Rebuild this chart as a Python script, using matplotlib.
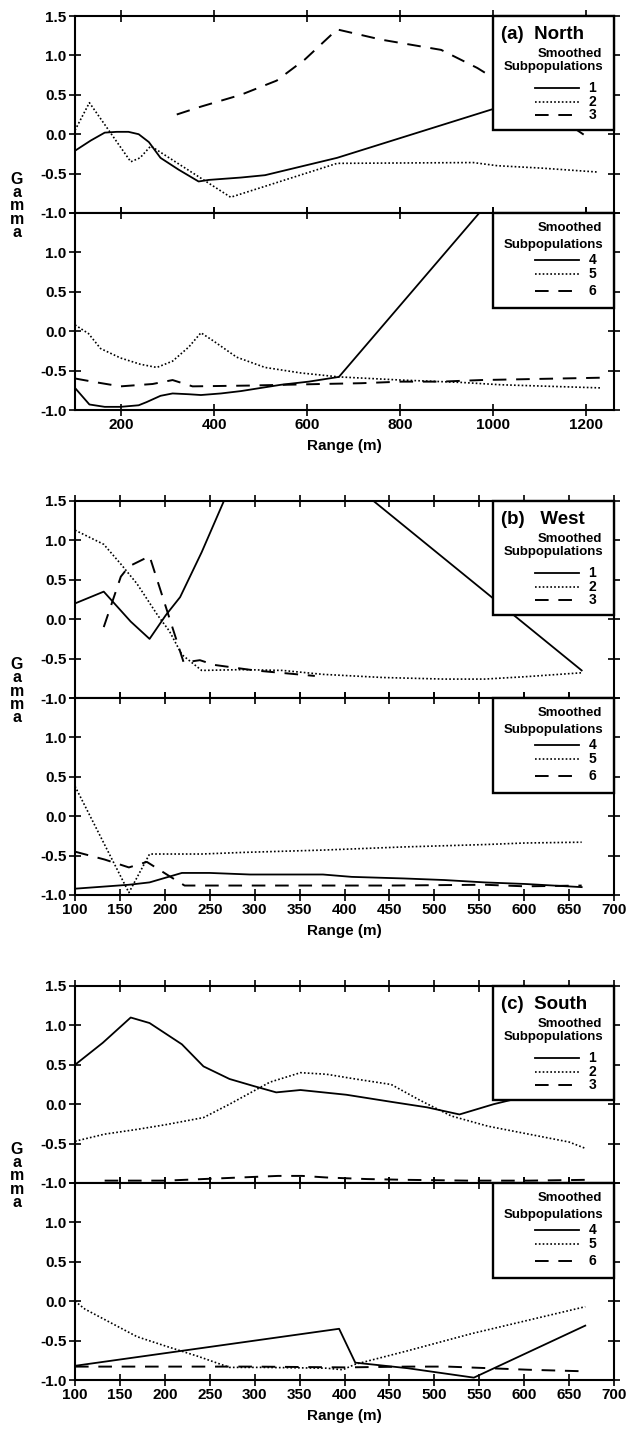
import numpy as np
import matplotlib
matplotlib.use("Agg")
import matplotlib.pyplot as plt
from matplotlib.patches import Rectangle

plt.rcParams['font.family'] = ['Liberation Sans', 'DejaVu Sans']
plt.rcParams['font.weight'] = 'bold'
plt.rcParams['axes.labelweight'] = 'bold'
plt.rcParams['axes.unicode_minus'] = False

# ---- panel (a) North ----
a1_x = [100, 134, 164, 190, 215, 237, 259, 284, 323, 366, 388, 457, 509, 664, 1000, 1100]
a1_y = [-0.21, -0.08, 0.02, 0.03, 0.03, 0.0, -0.1, -0.3, -0.45, -0.6, -0.58, -0.55, -0.52, -0.3, 0.32, 0.45]
a2_x = [100, 131, 220, 240, 263, 435, 664, 957, 1009, 1103, 1224]
a2_y = [0.05, 0.4, -0.35, -0.3, -0.15, -0.8, -0.37, -0.36, -0.4, -0.43, -0.48]
a3_x = [319, 371, 457, 534, 595, 664, 759, 888, 966, 1181, 1211]
a3_y = [0.25, 0.35, 0.5, 0.68, 0.95, 1.33, 1.2, 1.07, 0.84, 0.05, -0.07]
a4_x = [100, 131, 164, 198, 237, 254, 284, 310, 345, 371, 414, 457, 500, 543, 603, 668, 970]
a4_y = [-0.72, -0.93, -0.96, -0.96, -0.94, -0.9, -0.82, -0.79, -0.8, -0.81, -0.79, -0.76, -0.72, -0.68, -0.64, -0.58, 1.5]
a5_x = [100, 129, 155, 198, 241, 276, 310, 345, 371, 397, 448, 509, 586, 668, 802, 931, 1017, 1233]
a5_y = [0.08, -0.03, -0.22, -0.34, -0.42, -0.46, -0.38, -0.2, -0.02, -0.12, -0.33, -0.46, -0.53, -0.58, -0.62, -0.65, -0.68, -0.72]
a6_x = [100, 147, 198, 267, 310, 353, 474, 629, 716, 802, 888, 974, 1060, 1233]
a6_y = [-0.6, -0.65, -0.7, -0.67, -0.62, -0.7, -0.69, -0.67, -0.66, -0.64, -0.64, -0.62, -0.61, -0.59]

# ---- panel (b) West ----
b1_x = [100, 132, 162, 183, 201, 217, 241, 300, 400, 664]
b1_y = [0.2, 0.35, -0.03, -0.25, 0.05, 0.28, 0.85, 2.4, 1.8, -0.65]
b2_x = [100, 132, 151, 169, 192, 205, 219, 241, 286, 331, 376, 443, 511, 556, 601, 664]
b2_y = [1.13, 0.95, 0.7, 0.45, 0.05, -0.15, -0.45, -0.65, -0.64, -0.65, -0.7, -0.74, -0.76, -0.76, -0.73, -0.68]
b3_x = [132, 151, 160, 183, 201, 221, 239, 255, 300, 367]
b3_y = [-0.1, 0.54, 0.67, 0.8, 0.16, -0.55, -0.52, -0.58, -0.65, -0.72]
b4_x = [100, 160, 183, 201, 219, 250, 295, 349, 376, 408, 466, 511, 556, 601, 664]
b4_y = [-0.92, -0.87, -0.84, -0.78, -0.72, -0.72, -0.74, -0.74, -0.74, -0.77, -0.79, -0.81, -0.84, -0.86, -0.9]
b5_x = [100, 160, 183, 241, 286, 376, 466, 556, 601, 664]
b5_y = [0.38, -0.97, -0.48, -0.48, -0.46, -0.43, -0.39, -0.36, -0.34, -0.33]
b6_x = [100, 133, 160, 180, 205, 222, 350, 450, 556, 601, 664]
b6_y = [-0.45, -0.55, -0.65, -0.58, -0.76, -0.88, -0.88, -0.88, -0.87, -0.89, -0.88]

# ---- panel (c) South ----
c1_x = [100, 131, 162, 183, 219, 243, 272, 299, 324, 351, 402, 452, 492, 528, 566, 620]
c1_y = [0.5, 0.78, 1.1, 1.03, 0.76, 0.48, 0.32, 0.23, 0.15, 0.18, 0.12, 0.03, -0.04, -0.13, 0.0, 0.15]
c2_x = [100, 133, 169, 201, 243, 272, 317, 351, 380, 412, 452, 484, 519, 560, 605, 650, 668]
c2_y = [-0.47, -0.38, -0.32, -0.26, -0.17, 0.0, 0.28, 0.4, 0.38, 0.32, 0.25, 0.05, -0.15, -0.28, -0.38, -0.48, -0.56]
c3_x = [133, 201, 263, 326, 353, 380, 425, 470, 537, 605, 668]
c3_y = [-0.97, -0.97, -0.94, -0.91, -0.91, -0.93, -0.95, -0.96, -0.97, -0.97, -0.96]
c4_x = [100, 394, 412, 470, 544, 668]
c4_y = [-0.82, -0.35, -0.78, -0.85, -0.97, -0.31]
c5_x = [100, 111, 169, 201, 237, 272, 308, 380, 398, 412, 470, 542, 605, 668]
c5_y = [0.0, -0.1, -0.45, -0.57, -0.7, -0.84, -0.84, -0.85, -0.87, -0.8, -0.63, -0.41, -0.24, -0.07]
c6_x = [100, 300, 400, 470, 515, 560, 605, 668]
c6_y = [-0.83, -0.83, -0.84, -0.83, -0.83, -0.85, -0.87, -0.89]

titles = ["(a)  North", "(b)   West", "(c)  South"]
top_labels = ["1", "2", "3"]
bot_labels = ["4", "5", "6"]
yticks = [-1.0, -0.5, 0.0, 0.5, 1.0, 1.5]

W, H = 629, 1443
fig = plt.figure(figsize=(W / 100, H / 100), dpi=100)

styles = [dict(ls='-', lw=1.3),
          dict(ls=(0, (1.0, 1.3)), lw=1.2),
          dict(ls=(0, (7, 5)), lw=1.4)]


def style_axes(ax, xlim, xticks, show_x, hide_top_label):
    ax.set_xlim(xlim)
    ax.set_ylim(-1.0, 1.5)
    ax.set_xticks(xticks)
    ax.set_yticks(yticks)
    labs = ["%.1f" % v for v in yticks]
    if hide_top_label:
        labs[-1] = ""
    ax.set_yticklabels(labs)
    ax.tick_params(direction='inout', length=8, width=1.2, top=True, right=True,
                   labelsize=11, pad=2)
    if not show_x:
        ax.tick_params(labelbottom=False)
    else:
        ax.set_xticklabels([str(v) for v in xticks])
    for s in ax.spines.values():
        s.set_linewidth(1.5)


def draw_key(ax, title, labels, height):
    x0 = 0.775
    ax.add_patch(Rectangle((x0, 1 - height), 1 - x0, height, transform=ax.transAxes,
                           facecolor='white', edgecolor='black', lw=1.7, zorder=5,
                           clip_on=False))
    bw = 1 - x0
    if title:
        ax.text(x0 + 0.07 * bw, 1 - 0.16 * height, title, transform=ax.transAxes,
                fontsize=13.5, ha='left', va='center', zorder=6)
        rows = [0.33, 0.45, 0.63, 0.75, 0.87]
    else:
        rows = [0.16, 0.34, 0.50, 0.65, 0.82]
    ax.text(x0 + 0.64 * bw, 1 - rows[0] * height, "Smoothed", transform=ax.transAxes,
            fontsize=9.5, ha='center', va='center', zorder=6)
    ax.text(x0 + 0.50 * bw, 1 - rows[1] * height, "Subpopulations", transform=ax.transAxes,
            fontsize=9.5, ha='center', va='center', zorder=6)
    for k in range(3):
        yy = 1 - rows[2 + k] * height
        ax.plot([x0 + 0.35 * bw, x0 + 0.71 * bw], [yy, yy], transform=ax.transAxes,
                color='black', zorder=6, clip_on=False, **styles[k])
        ax.text(x0 + 0.82 * bw, yy, labels[k], transform=ax.transAxes,
                fontsize=10, ha='center', va='center', zorder=6)


panels = [
    ([(a1_x, a1_y), (a2_x, a2_y), (a3_x, a3_y)], [(a4_x, a4_y), (a5_x, a5_y), (a6_x, a6_y)],
     (100, 1260), [200, 400, 600, 800, 1000, 1200], 16),
    ([(b1_x, b1_y), (b2_x, b2_y), (b3_x, b3_y)], [(b4_x, b4_y), (b5_x, b5_y), (b6_x, b6_y)],
     (100, 700), list(range(100, 701, 50)), 501),
    ([(c1_x, c1_y), (c2_x, c2_y), (c3_x, c3_y)], [(c4_x, c4_y), (c5_x, c5_y), (c6_x, c6_y)],
     (100, 700), list(range(100, 701, 50)), 986),
]

left, right = 75, 614
h = 197
for i, (top_series, bot_series, xlim, xticks, T) in enumerate(panels):
    ax1 = fig.add_axes([left / W, 1 - (T + h) / H, (right - left) / W, h / H])
    ax2 = fig.add_axes([left / W, 1 - (T + 2 * h) / H, (right - left) / W, h / H])
    for k, (xs, ys) in enumerate(top_series):
        ax1.plot(xs, ys, color='black', **styles[k])
    for k, (xs, ys) in enumerate(bot_series):
        ax2.plot(xs, ys, color='black', **styles[k])
    style_axes(ax1, xlim, xticks, False, False)
    style_axes(ax2, xlim, xticks, True, True)
    draw_key(ax1, titles[i], top_labels, 0.58)
    draw_key(ax2, None, bot_labels, 0.48)
    ax2.set_xlabel("Range (m)", fontsize=11, fontweight='bold', labelpad=5)
    fig.text(17 / W, 1 - (T + h - 7) / H, "G\na\nm\nm\na", ha='center', va='center',
             fontsize=11.5, fontweight='bold', linespacing=0.85)

fig.savefig("out.png", dpi=100)
